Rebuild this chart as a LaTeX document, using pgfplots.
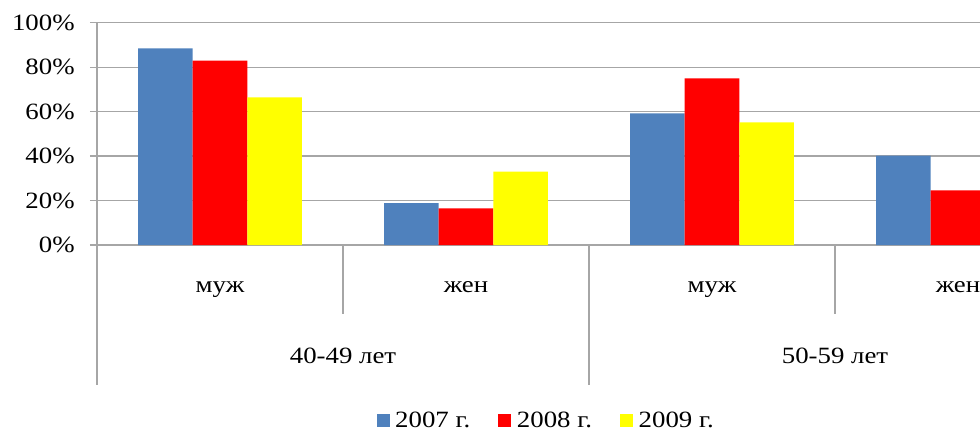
\documentclass[border=0pt]{standalone}
\usepackage{pgfplots}
\pgfplotsset{compat=1.18}
\usepackage{fontspec}
\setmainfont{Liberation Serif}[FakeStretch=1.15]
\definecolor{c07}{RGB}{79,129,189}
\definecolor{c08}{RGB}{255,0,0}
\definecolor{c09}{RGB}{255,255,0}
\definecolor{axgray}{RGB}{166,166,166}
\newcommand{\chartfont}{\fontsize{17.5}{20}\selectfont}

\begin{document}
\begin{tikzpicture}
\begin{axis}[
  scale only axis,
  width=738pt, height=166.7pt,
  xmin=-0.5, xmax=3.5, ymin=0, ymax=100,
  ybar=0pt, bar width=40.9pt,
  axis x line*=bottom, axis y line*=left,
  axis line style={axgray, line width=1pt, -},
  xtick=\empty,
  ytick={0,20,...,100},
  yticklabel={\pgfmathprintnumber{\tick}\%},
  yticklabel style={xshift=-8pt},
  /pgf/number format/assume math mode=true,
  tick align=outside, major tick length=5.25pt,
  ytick style={axgray, line width=1pt},
  ymajorgrids, grid style={axgray, line width=1pt},
  font=\chartfont,
  clip=false,
  every axis plot/.append style={draw=none},
  legend columns=3,
  legend style={at={(axis description cs:0.4568,-0.79)}, anchor=center,
    draw=none, font=\chartfont,
    /tikz/every even column/.append style={column sep=19pt}},
  legend image code/.code={\fill[#1] (0pt,-4.9pt) rectangle (9.75pt,4.9pt);
    \path (12pt,0pt);},
]
% shares by year; categories 0..3 = male/female in two age bands
\addplot[fill=c07] coordinates {(0,88.5) (1,18.8) (2,59.2) (3,40.2)};
\addplot[fill=c08] coordinates {(0,82.9) (1,16.5) (2,75.0) (3,24.6)};
\addplot[fill=c09] coordinates {(0,66.4) (1,33.0) (2,55.2)};
\legend{2007 г., 2008 г., 2009 г.}

% two-level category axis
\draw[axgray, line width=1pt] (axis cs:-0.5,0) -- ++(0pt,-105pt);
\draw[axgray, line width=1pt] (axis cs:0.5,0) -- ++(0pt,-51.75pt);
\draw[axgray, line width=1pt] (axis cs:1.5,0) -- ++(0pt,-105pt);
\draw[axgray, line width=1pt] (axis cs:2.5,0) -- ++(0pt,-51.75pt);
\draw[axgray, line width=1pt] (axis cs:3.5,0) -- ++(0pt,-105pt);
\node[anchor=base] at ([yshift=-35.25pt]axis cs:0,0) {муж};
\node[anchor=base] at ([yshift=-35.25pt]axis cs:1,0) {жен};
\node[anchor=base] at ([yshift=-35.25pt]axis cs:2,0) {муж};
\node[anchor=base] at ([yshift=-35.25pt]axis cs:3,0) {жен};
\node[anchor=base] at ([yshift=-88.5pt]axis cs:0.5,0) {40-49 лет};
\node[anchor=base] at ([yshift=-88.5pt]axis cs:2.5,0) {50-59 лет};
\end{axis}
\pgfresetboundingbox
\useasboundingbox (-72.75pt,-137.25pt) rectangle (662.25pt,183.75pt);
\end{tikzpicture}
\end{document}
